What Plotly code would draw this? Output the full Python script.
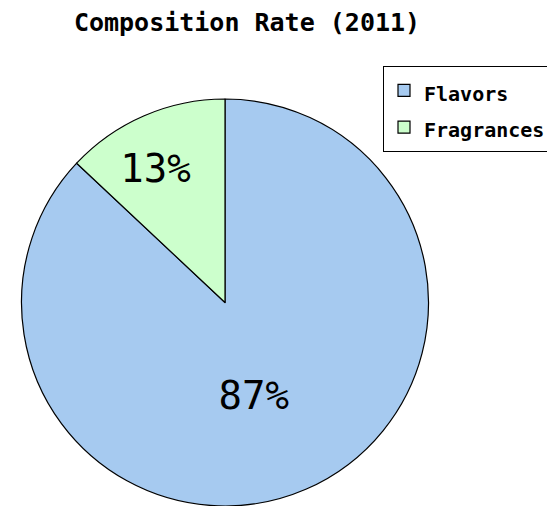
import plotly.graph_objects as go

labels = ["Flavors", "Fragrances"]
values = [87, 13]
colors = ["#A6CAF0", "#CCFFCC"]
title_text = "Composition Rate (2011)"

W, H = 547, 506
MONO = "DejaVu Sans Mono"

# legend entries: show text at 20px while spacing entries like the reference
legend_labels = ["<span style='font-size:20px'>%s</span>" % s for s in labels]

fig = go.Figure(go.Pie(
    labels=legend_labels,
    values=values,
    sort=False,
    direction="clockwise",
    rotation=0,
    marker=dict(colors=colors, line=dict(color="black", width=1.2)),
    textinfo="percent",
    texttemplate="%{percent:.0%}\u00a0",
    textposition="inside",
    insidetextorientation="horizontal",
    textfont=dict(family=MONO, size=39, color="black"),
    domain=dict(x=[21.5 / W, 428.5 / W], y=[0, (H - 99) / H]),
    showlegend=True,
    hoverinfo="percent+value",
))

fig.update_layout(
    width=W, height=H,
    margin=dict(l=0, r=0, t=0, b=0, autoexpand=False),
    paper_bgcolor="white",
    title=dict(text="<b>" + title_text + "</b>", x=247 / W, xanchor="center",
               y=1 - 22 / H, yanchor="middle", yref="paper",
               font=dict(family=MONO, size=25, color="black")),
    legend=dict(x=383 / W, xanchor="left", y=1 - 66 / H, yanchor="top",
                bordercolor="black", borderwidth=1,
                font=dict(family=MONO, size=26, color="black", weight="bold"),
                bgcolor="white"),
)

fig.write_html("out.html")
